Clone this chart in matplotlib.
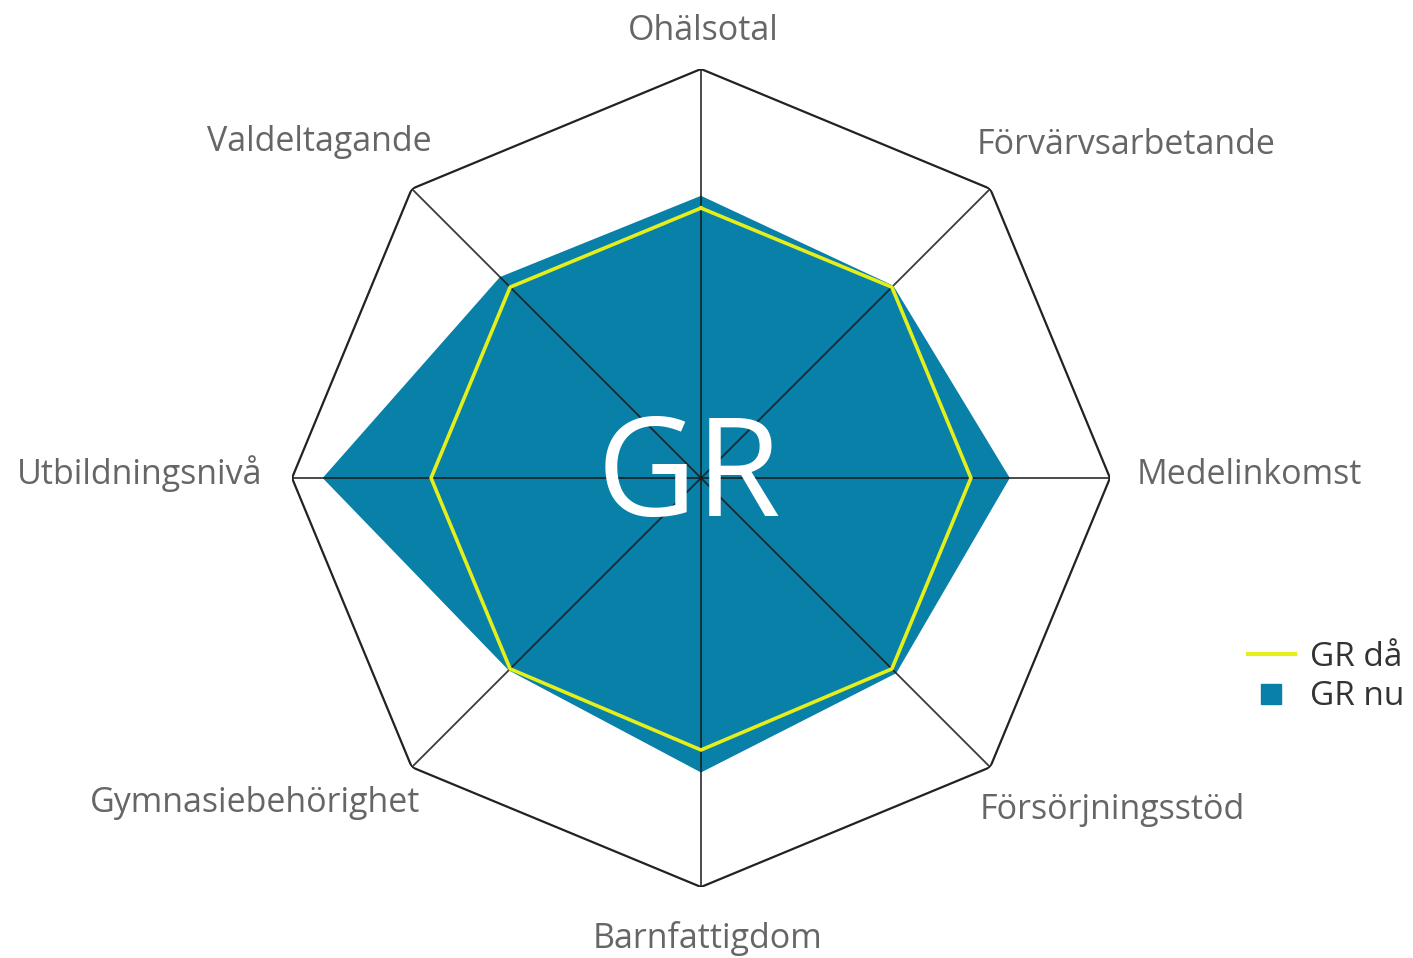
import numpy as np
import matplotlib.pyplot as plt
from matplotlib.lines import Line2D

# Axes, clockwise from the top
labels = ['Ohälsotal', 'Förvärvsarbetande', 'Medelinkomst', 'Försörjningsstöd',
          'Barnfattigdom', 'Gymnasiebehörighet', 'Utbildningsnivå', 'Valdeltagande']
gr_da = [0.66, 0.66, 0.66, 0.66, 0.665, 0.66, 0.66, 0.66]
gr_nu = [0.69, 0.665, 0.755, 0.675, 0.72, 0.665, 0.925, 0.695]

teal = '#0880a8'
yellow = '#e6ee1c'
label_color = '#666666'

plt.rcParams['font.family'] = ['Open Sans', 'DejaVu Sans']

n = len(labels)
theta = np.linspace(0, 2 * np.pi, n, endpoint=False)
closed = np.append(theta, theta[0])

fig = plt.figure(figsize=(14.13, 9.58), dpi=100)
cx, cy, r = 701 / 1413, 1 - 478 / 958, 409
ax = fig.add_axes([cx - r / 1413, cy - r / 958, 2 * r / 1413, 2 * r / 958], projection='polar')
ax.set_theta_zero_location('N')
ax.set_theta_direction(-1)
ax.set_ylim(0, 1)
ax.grid(False)
ax.spines['polar'].set_visible(False)
ax.set_xticks([])
ax.set_yticks([])
ax.patch.set_alpha(0)

# GR nu (filled)
ax.fill(closed, np.append(gr_nu, gr_nu[0]), color=teal, lw=0, zorder=1)

# outer octagon and spokes
ax.plot(closed, np.ones(n + 1), color='#222222', lw=1.6, zorder=3)
for t in theta:
    ax.plot([t, t], [0, 1], color='#1a1a1a', lw=1.3, alpha=0.85, zorder=3)

# GR då (line)
ax.plot(closed, np.append(gr_da, gr_da[0]), color=yellow, lw=2.6, zorder=4)

# axis labels, offsets in pixels from each outer vertex
offsets = [(2, 38), (136, 44), (139, 3), (122, -43),
           (7, -51), (-157, -36), (-152, 4), (-92, 47)]
for t, lab, (dx, dy) in zip(theta, labels, offsets):
    ax.annotate(lab, xy=(t, 1), xytext=(dx * 0.72, dy * 0.72), textcoords='offset points',
                ha='center', va='center', fontsize=24.5, color=label_color,
                annotation_clip=False)

# big centre text
fig.text(689 / 1413, 1 - 480 / 958, 'GR', ha='center', va='center',
         fontsize=99, color='white', zorder=10)

# legend
handles = [Line2D([], [], color=yellow, lw=3),
           Line2D([], [], color=teal, marker='s', markersize=15, ls='none')]
fig.legend(handles, ['GR då', 'GR nu'], loc='center left',
           bbox_to_anchor=(1248 / 1413, 1 - 677 / 958), frameon=False,
           borderpad=0, borderaxespad=0,
           fontsize=24, labelcolor='#333333', handlelength=1.4,
           handletextpad=0.45, labelspacing=0.2)

fig.savefig('out.png', dpi=100)
